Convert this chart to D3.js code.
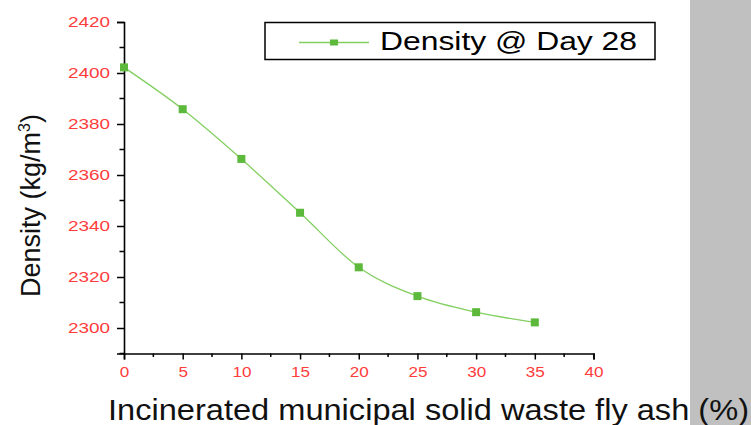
<!DOCTYPE html>
<html>
<head>
<meta charset="utf-8">
<script src="https://cdn.jsdelivr.net/npm/d3@7"></script>
<style>
  html, body { margin: 0; padding: 0; background: #fff; }
  svg { display: block; font-family: "Liberation Sans", Arial, sans-serif; }
</style>
</head>
<body>
<svg id="chart" width="751" height="425"></svg>
<script>
// Fly ash replacement (%) and 28-day density (kg/m3)
const ashPercent = [0, 5, 10, 15, 20, 25, 30, 35];
const density28 = [2402.2, 2385.8, 2366.3, 2345.2, 2323.8, 2312.5, 2306.2, 2302.2];
const xTicks = [0, 5, 10, 15, 20, 25, 30, 35, 40];
const yTicks = [2300, 2320, 2340, 2360, 2380, 2400, 2420];
const xMinorTicks = [2.5, 7.5, 12.5, 17.5, 22.5, 27.5, 32.5, 37.5];
const yMinorTicks = [2290, 2310, 2330, 2350, 2370, 2390, 2410];
const seriesName = "Density @ Day 28";

const svg = d3.select("#chart");
const tickRed = "#ff3c3c";
const lineGreen = "#82cf60";
const markGreen = "#5cb93b";

svg.append("rect").attr("x", 0).attr("y", 0).attr("width", 751).attr("height", 425).attr("fill", "#fff");
svg.append("rect").attr("x", 690).attr("y", 0).attr("width", 61).attr("height", 425).attr("fill", "#c0c0c0");

const x = d3.scaleLinear().domain([0, 40]).range([124, 593.5]);
const y = d3.scaleLinear().domain([2290, 2420]).range([353.5, 22]);

// widen text horizontally to the given factor
function stretch(sel, factor) {
  sel.each(function () {
    const len = this.getComputedTextLength();
    d3.select(this).attr("textLength", len * factor).attr("lengthAdjust", "spacingAndGlyphs");
  });
}

// Y axis
const yAxisG = svg.append("g").attr("transform", `translate(${x(0)},0)`)
  .call(d3.axisLeft(y).tickValues(yTicks).tickFormat(d3.format("d")).tickSize(7).tickPadding(7));
yAxisG.selectAll(".tick line").attr("stroke", "#000").attr("stroke-width", 1.5);
yAxisG.selectAll(".tick text").attr("fill", tickRed).style("font-size", "15px");
yAxisG.select(".domain").attr("stroke", "#000").attr("stroke-width", 1.6);
yAxisG.append("g").selectAll("line").data(yMinorTicks).join("line")
  .attr("x1", -4.5).attr("x2", 0).attr("y1", d => y(d)).attr("y2", d => y(d))
  .attr("stroke", "#000").attr("stroke-width", 1.5);

// X axis
const xAxisG = svg.append("g").attr("transform", `translate(0,${y(2290)})`)
  .call(d3.axisBottom(x).tickValues(xTicks).tickFormat(d3.format("d")).tickSize(6).tickPadding(7));
xAxisG.selectAll(".tick line").attr("stroke", "#000").attr("stroke-width", 1.5);
xAxisG.selectAll(".tick text").attr("fill", tickRed).style("font-size", "15px");
xAxisG.select(".domain").attr("stroke", "#000").attr("stroke-width", 1.6);
xAxisG.append("g").selectAll("line").data(xMinorTicks).join("line")
  .attr("x1", d => x(d)).attr("x2", d => x(d)).attr("y1", 0).attr("y2", 3.5)
  .attr("stroke", "#000").attr("stroke-width", 1.5);

yAxisG.selectAll(".tick text").call(stretch, 1.26);
xAxisG.selectAll(".tick text").call(stretch, 1.14);

// Series line and markers
const pts = ashPercent.map((a, i) => [a, density28[i]]);
svg.append("path")
  .attr("d", d3.line().x(d => x(d[0])).y(d => y(d[1])).curve(d3.curveMonotoneX)(pts))
  .attr("fill", "none").attr("stroke", lineGreen).attr("stroke-width", 1.3);
svg.append("g").selectAll("rect").data(pts).join("rect")
  .attr("x", d => x(d[0]) - 4).attr("y", d => y(d[1]) - 4)
  .attr("width", 8).attr("height", 8).attr("fill", markGreen);

// Legend
const lg = svg.append("g");
lg.append("rect").attr("x", 265).attr("y", 22.5).attr("width", 390).attr("height", 37)
  .attr("fill", "#fff").attr("stroke", "#000").attr("stroke-width", 1.5);
lg.append("line").attr("x1", 299).attr("x2", 369).attr("y1", 42.5).attr("y2", 42.5)
  .attr("stroke", lineGreen).attr("stroke-width", 1.3);
lg.append("rect").attr("x", 330).attr("y", 39.5).attr("width", 8).attr("height", 6).attr("fill", markGreen);
lg.append("text").attr("x", 380).attr("y", 49.5).attr("fill", "#000")
  .style("font-size", "26px").attr("textLength", 257).attr("lengthAdjust", "spacingAndGlyphs")
  .text(seriesName);

// Axis titles
svg.append("text").attr("x", 108).attr("y", 420).attr("fill", "#111")
  .style("font-size", "30px").attr("textLength", 641).attr("lengthAdjust", "spacingAndGlyphs")
  .text("Incinerated municipal solid waste fly ash (%)");

const yt = svg.append("text").attr("transform", "translate(40,297) rotate(-90)")
  .attr("fill", "#111").style("font-size", "27px");
yt.append("tspan").text("Density (kg/m");
yt.append("tspan").attr("dy", -10).style("font-size", "16px").text("3");
yt.append("tspan").attr("dy", 10).text(")");
</script>
</body>
</html>
